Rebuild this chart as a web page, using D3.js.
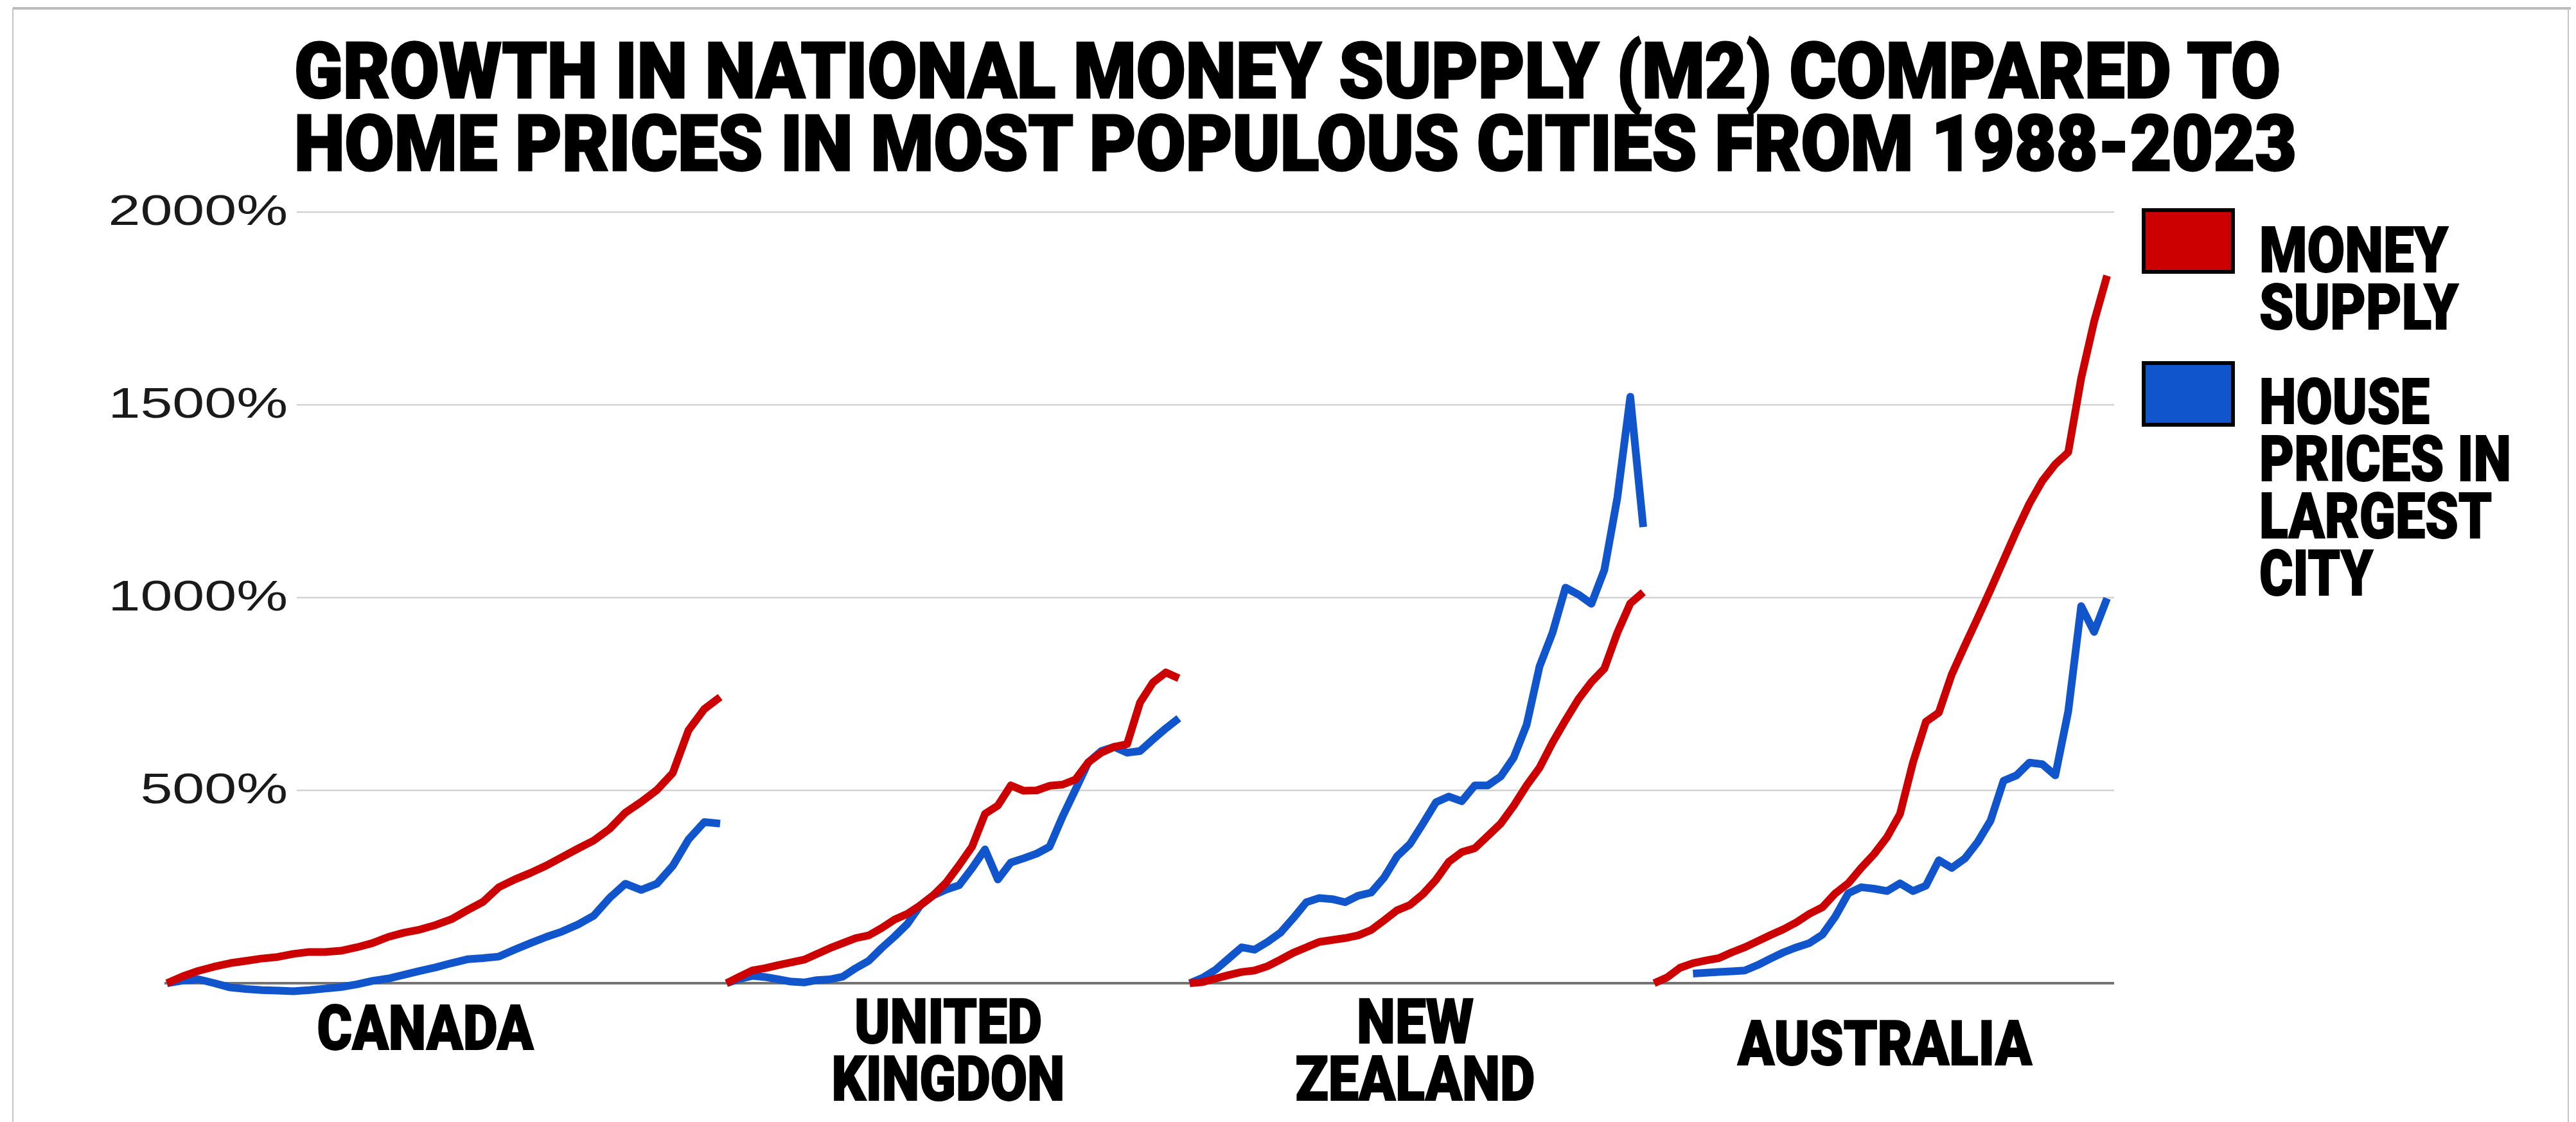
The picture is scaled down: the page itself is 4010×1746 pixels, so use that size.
<!DOCTYPE html>
<html>
<head>
<meta charset="utf-8">
<script src="https://cdn.jsdelivr.net/npm/d3@7/dist/d3.min.js"></script>
<style>
    body { margin: 0; background: #fff; }
    svg { display: block; }
    .heavy { font-family: Roboto, "Noto Sans", sans-serif; font-weight: 900; fill: #000; stroke: #000; }
</style>
</head>
<body>
<div id="chart"></div>
<script>
var years = [1988, 1989, 1990, 1991, 1992, 1993, 1994, 1995, 1996, 1997,
    1998, 1999, 2000, 2001, 2002, 2003, 2004, 2005, 2006, 2007,
    2008, 2009, 2010, 2011, 2012, 2013, 2014, 2015, 2016, 2017,
    2018, 2019, 2020, 2021, 2022, 2023];

var countries = ["CANADA", "UNITED KINGDON", "NEW ZEALAND", "AUSTRALIA"];

// growth since 1988, in percent
var canadaMoney = [0, 18, 32, 43, 52, 58, 64, 68, 76, 81, 81, 84, 93, 104, 120, 131, 139, 151, 166, 189,
    211, 249, 269, 286, 305, 327, 349, 370, 400, 442, 470, 501, 545, 656, 711, 742];
var canadaHouse = [0, 7, 10, 0, -11, -15, -18, -19, -21, -18, -14, -10, -3, 6, 12, 22, 32, 41, 52, 62,
    65, 69, 87, 104, 120, 134, 152, 175, 221, 258, 242, 258, 304, 373, 418, 414];

var ukMoney = [0, 17, 33, 39, 47, 54, 61, 76, 91, 104, 117, 124, 143, 165, 180, 202, 228, 261, 306, 354,
    439, 461, 513, 499, 500, 512, 515, 528, 573, 598, 613, 620, 728, 780, 806, 791];
var ukHouse = [0, 11, 19, 16, 10, 4, 2, 8, 10, 17, 39, 58, 91, 121, 154, 202, 228, 243, 254, 298,
    347, 269, 313, 324, 336, 354, 432, 502, 573, 602, 613, 598, 602, 632, 661, 687];

var nzMoney = [0, 3, 12, 21, 29, 33, 44, 61, 79, 93, 107, 112, 117, 124, 138, 163, 189, 203, 231, 268,
    315, 340, 350, 382, 414, 460, 513, 559, 624, 682, 737, 781, 816, 909, 985, 1014];
var nzHouse = [0, 14, 35, 64, 93, 87, 107, 131, 169, 210, 221, 218, 210, 227, 235, 274, 329, 361, 414, 469,
    484, 472, 513, 513, 536, 585, 670, 822, 909, 1026, 1008, 984, 1072, 1259, 1521, 1183];

var ausMoney = [0, 15, 40, 52, 59, 65, 80, 93, 109, 125, 140, 158, 180, 197, 233, 259, 299, 335, 379, 439,
    572, 678, 702, 801, 875, 947, 1021, 1097, 1173, 1244, 1303, 1346, 1377, 1569, 1716, 1835];
var ausHouse = [null, null, null, 25, 27, 29, 31, 33, 47, 64, 80, 93, 104, 126, 173, 233, 249, 245, 239, 259,
    239, 253, 319, 299, 323, 366, 422, 525, 539, 572, 568, 539, 705, 978, 911, 998];

var moneySeries = [canadaMoney, ukMoney, nzMoney, ausMoney];
var houseSeries = [canadaHouse, ukHouse, nzHouse, ausHouse];

var yTicks = [500, 1000, 1500, 2000];
var seriesNames = [["MONEY", "SUPPLY"], ["HOUSE", "PRICES IN", "LARGEST", "CITY"]];
var titleLines = ["GROWTH IN NATIONAL MONEY SUPPLY (M2) COMPARED TO",
    "HOME PRICES IN MOST POPULOUS CITIES FROM 1988-2023"];

var moneyColor = "#cc0000";
var houseColor = "#1155cc";

var width = 4010, height = 1746;
// where each country's run of years sits on the shared x axis
var groupSpan = [[260, 1121], [1131, 1835], [1852, 2558], [2575, 3280]];
var labelCenter = [662, 1476, 2203, 2934];
var labelBaseline = [1633, 1623, 1623, 1657];
var plotLeft = 256, plotRight = 3291, gridLeft = 462;

var svg = d3.select("#chart").append("svg")
    .attr("width", width)
    .attr("height", height);

// thin frame like the original screenshot
svg.append("line").attr("x1", 20).attr("x2", 4002).attr("y1", 13).attr("y2", 13)
    .attr("stroke", "#bcbcbc").attr("stroke-width", 4);
svg.append("line").attr("x1", 20).attr("x2", 20).attr("y1", 13).attr("y2", height)
    .attr("stroke", "#c4c4c4").attr("stroke-width", 2);
svg.append("line").attr("x1", 3998).attr("x2", 3998).attr("y1", 13).attr("y2", height)
    .attr("stroke", "#c4c4c4").attr("stroke-width", 2);

// title
svg.selectAll(".title")
    .data(titleLines)
    .enter()
    .append("text")
    .attr("class", "title heavy")
    .attr("x", 458)
    .attr("y", function (d, i) { return 152 + i * 113; })
    .attr("font-size", 121)
    .attr("stroke-width", 3)
    .attr("textLength", function (d, i) { return i === 0 ? 3092 : 3117; })
    .attr("lengthAdjust", "spacingAndGlyphs")
    .text(function (d) { return d; });

var yScale = d3.scaleLinear()
    .domain([0, 2000])
    .range([1530, 330]);

// gridlines
svg.selectAll(".grid")
    .data(yTicks)
    .enter()
    .append("line")
    .attr("class", "grid")
    .attr("x1", gridLeft)
    .attr("x2", plotRight)
    .attr("y1", function (d) { return yScale(d); })
    .attr("y2", function (d) { return yScale(d); })
    .attr("stroke", "#d2d2d2")
    .attr("stroke-width", 2.5);

// y axis labels (the original is stretched wide, so widen the glyphs)
var yAxis = d3.axisLeft(yScale)
    .tickValues(yTicks)
    .tickSize(0)
    .tickPadding(0)
    .tickFormat(function (d) { return d + "%"; });

var yAxisG = svg.append("g")
    .attr("transform", "translate(448,0)")
    .call(yAxis);
yAxisG.select(".domain").remove();
yAxisG.selectAll("text")
    .attr("font-family", "'Liberation Sans', Arial, sans-serif")
    .attr("font-size", 66)
    .attr("fill", "#1a1a1a")
    .attr("dy", "0.3em")
    .each(function () {
        var w = this.getComputedTextLength();
        d3.select(this)
            .attr("textLength", w * 1.36)
            .attr("lengthAdjust", "spacingAndGlyphs");
    });

// baseline
svg.append("line")
    .attr("x1", plotLeft)
    .attr("x2", plotRight)
    .attr("y1", yScale(0))
    .attr("y2", yScale(0))
    .attr("stroke", "#737373")
    .attr("stroke-width", 4);

var line = d3.line()
    .defined(function (d) { return d.v !== null; })
    .x(function (d) { return d.x; })
    .y(function (d) { return yScale(d.v); });

function points(values, g) {
    var xScale = d3.scaleLinear()
        .domain([years[0], years[years.length - 1]])
        .range(groupSpan[g]);
    return values.map(function (v, i) {
        return { x: xScale(years[i]), v: v };
    });
}

var groups = svg.selectAll(".country")
    .data(countries)
    .enter()
    .append("g")
    .attr("class", "country");

groups.append("path")
    .attr("d", function (d, g) { return line(points(houseSeries[g], g)); })
    .attr("fill", "none")
    .attr("stroke", houseColor)
    .attr("stroke-width", 12)
    .attr("stroke-linejoin", "round");

groups.append("path")
    .attr("d", function (d, g) { return line(points(moneySeries[g], g)); })
    .attr("fill", "none")
    .attr("stroke", moneyColor)
    .attr("stroke-width", 12)
    .attr("stroke-linejoin", "round");

// country labels under each group
var labelWidths = {
    "CANADA": 337, "UNITED": 292, "KINGDON": 363,
    "NEW": 182, "ZEALAND": 373, "AUSTRALIA": 458
};
groups.each(function (d, g) {
    var words = d === "CANADA" || d === "AUSTRALIA" ? [d] : d.split(" ");
    d3.select(this).selectAll(".clabel")
        .data(words)
        .enter()
        .append("text")
        .attr("class", "clabel heavy")
        .attr("x", labelCenter[g])
        .attr("y", function (w, i) { return labelBaseline[g] + i * 89; })
        .attr("text-anchor", "middle")
        .attr("font-size", 96)
        .attr("stroke-width", 2)
        .attr("textLength", function (w) { return labelWidths[w]; })
        .attr("lengthAdjust", "spacingAndGlyphs")
        .text(function (w) { return w; });
});

// legend
var legendColors = [moneyColor, houseColor];
var legendTop = [327, 565];
var legendFirstBaseline = [423, 659];
var legendWidths = {
    "MONEY": 294, "SUPPLY": 310, "HOUSE": 265,
    "PRICES IN": 392, "LARGEST": 362, "CITY": 177
};
var legend = svg.selectAll(".legend")
    .data(seriesNames)
    .enter()
    .append("g")
    .attr("class", "legend");

legend.append("rect")
    .attr("x", 3337)
    .attr("y", function (d, i) { return legendTop[i]; })
    .attr("width", 139)
    .attr("height", 96)
    .attr("fill", function (d, i) { return legendColors[i]; })
    .attr("stroke", "#000")
    .attr("stroke-width", 6);

legend.each(function (d, i) {
    d3.select(this).selectAll("text")
        .data(d)
        .enter()
        .append("text")
        .attr("class", "heavy")
        .attr("x", 3517)
        .attr("y", function (w, j) { return legendFirstBaseline[i] + j * 89; })
        .attr("font-size", 99)
        .attr("stroke-width", 2)
        .attr("textLength", function (w) { return legendWidths[w]; })
        .attr("lengthAdjust", "spacingAndGlyphs")
        .text(function (w) { return w; });
});
</script>
</body>
</html>
